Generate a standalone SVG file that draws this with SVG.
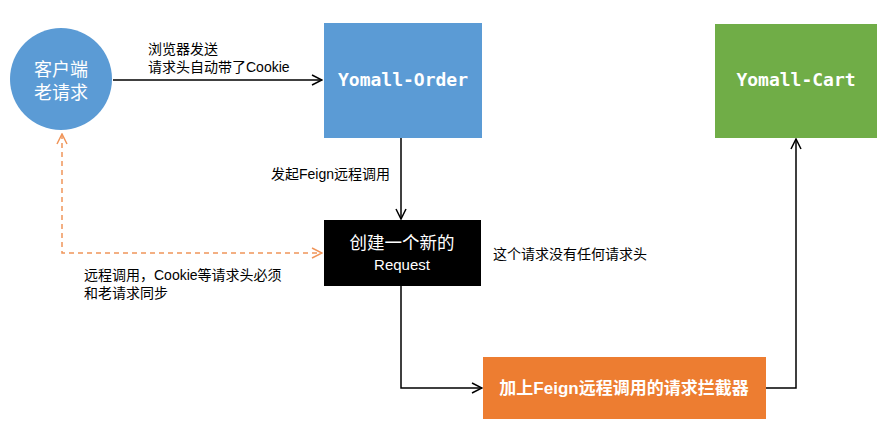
<svg xmlns="http://www.w3.org/2000/svg" width="889" height="436" viewBox="0 0 889 436">
<defs>
<marker id="arr" viewBox="0 0 12 12" refX="11" refY="6" markerWidth="12" markerHeight="12" markerUnits="userSpaceOnUse" orient="auto-start-reverse">
<path d="M1,1 L11,6 L1,11" fill="none" stroke="#000" stroke-width="1.5"/>
</marker>
<marker id="arrO" viewBox="0 0 12 12" refX="11" refY="6" markerWidth="12" markerHeight="12" markerUnits="userSpaceOnUse" orient="auto-start-reverse">
<path d="M1,1 L11,6 L1,11" fill="none" stroke="#F0955A" stroke-width="1.5"/>
</marker>
</defs>
<style>
.t{font-family:"Liberation Sans","Noto Sans CJK SC",sans-serif;font-size:14px;fill:#000}
.w{font-family:"Liberation Sans","Noto Sans CJK SC",sans-serif;fill:#fff;text-anchor:middle}
.m{font-family:"DejaVu Sans Mono","Liberation Mono",monospace;font-weight:bold;font-size:18px;fill:#fff;text-anchor:middle}
.c{fill:none;stroke:#000;stroke-width:1.5}
.d{fill:none;stroke:#F0955A;stroke-width:1.5;stroke-dasharray:5,4}
</style>
<rect width="889" height="436" fill="#fff"/>
<g id="connectors">
<line class="c" x1="113" y1="80" x2="322" y2="80" marker-end="url(#arr)"/>
<line class="c" x1="401" y1="138" x2="401" y2="219" marker-end="url(#arr)"/>
<polyline class="c" points="401,286 401,388 482,388" marker-end="url(#arr)"/>
<polyline class="c" points="766,388 796,388 796,139" marker-end="url(#arr)"/>
<polyline class="d" points="62,134 62,253 322,253" marker-start="url(#arrO)" marker-end="url(#arrO)"/>
</g>
<g id="client">
<circle cx="61" cy="79" r="51" fill="#5B9BD5"/>
<text class="w" x="61" y="76" font-size="18">客户端</text>
<text class="w" x="61" y="99" font-size="18">老请求</text>
</g>
<g id="order">
<rect x="324" y="23" width="158" height="115" fill="#5B9BD5"/>
<text class="m" x="403" y="86">Yomall-Order</text>
</g>
<g id="cart">
<rect x="715" y="24" width="162" height="114" fill="#70AD47"/>
<text class="m" x="796" y="86">Yomall-Cart</text>
</g>
<g id="newreq">
<rect x="324" y="220" width="157" height="66" fill="#000"/>
<text class="w" x="402" y="249" font-size="17.5">创建一个新的</text>
<text class="w" x="402" y="270" font-size="15">Request</text>
</g>
<g id="interceptor">
<rect x="483" y="357" width="283" height="62" fill="#ED7D31"/>
<text class="w" x="624" y="394" font-size="17" font-weight="bold">加上Feign远程调用的请求拦截器</text>
</g>
<g id="labels">
<text class="t" x="148" y="54">浏览器发送</text>
<text class="t" x="148" y="72">请求头自动带了Cookie</text>
<text class="t" x="271" y="179">发起Feign远程调用</text>
<text class="t" x="493" y="259">这个请求没有任何请求头</text>
<text class="t" x="84" y="280">远程调用，Cookie等请求头必须</text>
<text class="t" x="84" y="298">和老请求同步</text>
</g>
</svg>
